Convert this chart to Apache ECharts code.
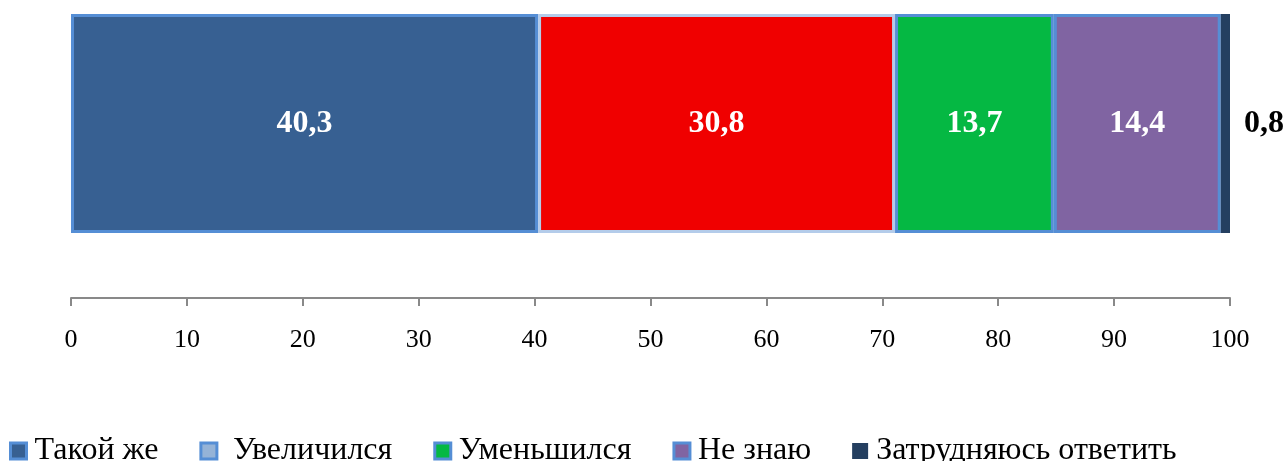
<!DOCTYPE html>
<html>
<head>
<meta charset="utf-8">
<script src="https://cdn.jsdelivr.net/npm/echarts@6/dist/echarts.min.js"></script>
<style>
    html, body { margin: 0; padding: 0; background: #fff; }
    #chart { width: 1288px; height: 461px; }
</style>
</head>
<body>
<div id="chart"></div>
<script>
    var categories = [''];
    var seriesNames = ['Такой же', ' Увеличился', 'Уменьшился', 'Не знаю', 'Затрудняюсь ответить'];
    var seriesValues = [40.3, 30.8, 13.7, 14.4, 0.8];
    var tickLabels = [0, 10, 20, 30, 40, 50, 60, 70, 80, 90, 100];

    var colors = ['#376092', '#F00000', '#05B843', '#8064A2', '#243F60'];
    var borders = ['#558ED5', '#B4CCEA', '#558ED5', '#558ED5', null];

    function fmt(v) {
        return v.toFixed(1).replace('.', ',');
    }

    var series = seriesNames.map(function (name, i) {
        var last = i === seriesNames.length - 1;
        return {
            name: name,
            type: 'bar',
            stack: 'total',
            barWidth: '100%',
            data: [seriesValues[i]],
            itemStyle: {
                color: colors[i],
                borderColor: borders[i] || colors[i],
                borderWidth: last ? 0 : 3
            },
            label: {
                show: true,
                position: last ? 'right' : 'inside',
                distance: 14,
                color: last ? '#000' : '#fff',
                fontFamily: 'Liberation Serif',
                fontWeight: 'bold',
                fontSize: 32,
                formatter: function (p) { return fmt(p.value); }
            }
        };
    });

    var myChart = echarts.init(document.getElementById('chart'));
    var option = {
        animation: false,
        grid: {
            left: 71,
            right: 58,
            top: 14,
            bottom: 228
        },
        xAxis: {
            type: 'value',
            min: 0,
            max: 100,
            interval: 10,
            offset: 65,
            axisLine: { show: true, lineStyle: { color: '#898989', width: 2 } },
            axisTick: { show: true, length: 8, lineStyle: { color: '#898989', width: 2 } },
            splitLine: { show: false },
            axisLabel: {
                margin: 29,
                color: '#000',
                fontFamily: 'Liberation Serif',
                fontSize: 26,
                formatter: function (v) { return tickLabels.indexOf(v) >= 0 ? String(v) : ''; }
            }
        },
        yAxis: {
            type: 'category',
            data: categories,
            axisLine: { show: false },
            axisTick: { show: false },
            axisLabel: { show: false }
        },
        legend: {
            left: 4,
            top: 430,
            itemWidth: 16,
            itemHeight: 16,
            itemGap: 41,
            icon: 'rect',
            textStyle: {
                color: '#000',
                fontFamily: 'Liberation Serif',
                fontSize: 32,
                padding: [0, 0, 0, 3]
            },
            data: seriesNames.map(function (name, i) {
                return {
                    name: name,
                    itemStyle: {
                        color: colors[i] === '#F00000' ? '#95B3D7' : colors[i],
                        borderColor: borders[i] ? '#558ED5' : colors[i],
                        borderWidth: borders[i] ? 3 : 0
                    }
                };
            })
        },
        series: series
    };
    myChart.setOption(option);
</script>
</body>
</html>
